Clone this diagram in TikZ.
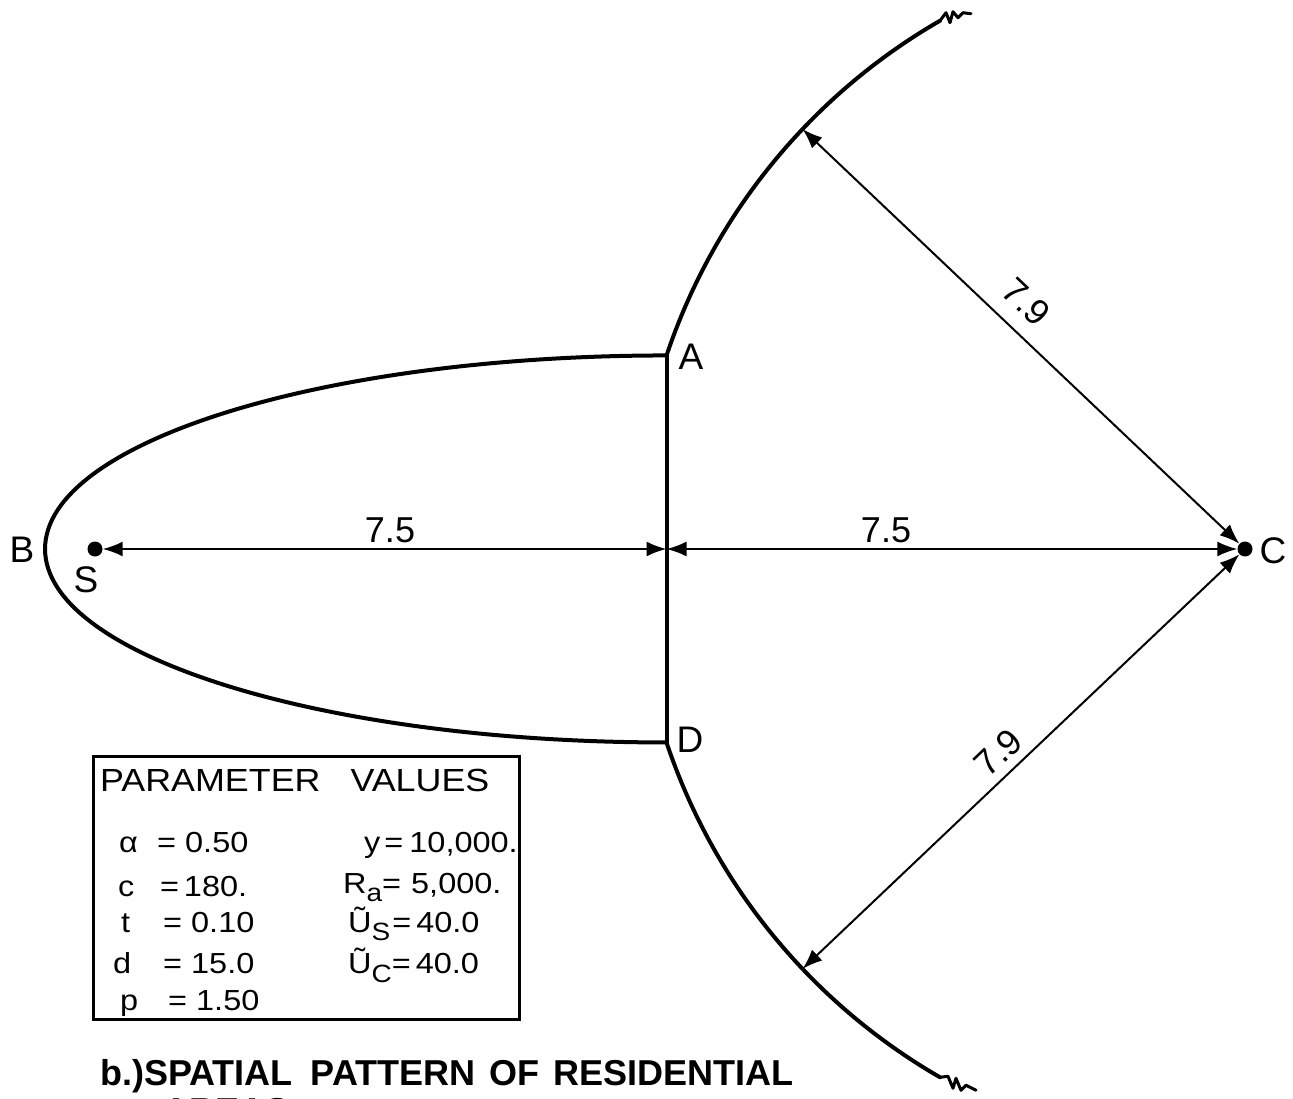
\documentclass[tikz,border=0pt]{standalone}
\usepackage{fontspec}
\setmainfont{Liberation Sans}
\newfontfamily\boxfont[FakeStretch=1.12]{Liberation Sans}
\usetikzlibrary{arrows.meta,calc}
\begin{document}
\begin{tikzpicture}[x=1pt,y=-1pt,
  curve/.style={line width=4pt, line join=round, line cap=round},
  zig/.style={line width=3pt, line join=round, line cap=round},
  dimline/.style={line width=2pt, {Latex[length=20pt,width=15pt]}-{Latex[length=20pt,width=15pt]}},
  dot/.style={circle, fill, inner sep=0pt, minimum size=15pt},
  lbl/.style={font=\fontsize{37}{40}\selectfont, inner sep=0pt},
  num/.style={font=\fontsize{36}{40}\selectfont, inner sep=0pt},
  ptxt/.style={font=\boxfont\fontsize{29}{32}\selectfont, anchor=base west, inner sep=0pt},
  captxt/.style={font=\bfseries\fontsize{36}{40}\selectfont, anchor=base west, inner sep=0pt},
]
\useasboundingbox (0,0) rectangle (1293,1099);
\fill[white] (0,0) rectangle (1293,1099);

% key points
\node[dot] (S) at (95,549) {};
\node[dot] (C) at (1245,549) {};
\coordinate (O) at (666.5,549);
\coordinate (A) at ($(C)+(161.5:610pt)$);
\coordinate (D) at ($(C)+(198.5:610pt)$);
\coordinate (P1) at ($(C)+(136.5:610pt)$);
\coordinate (P2) at ($(C)+(223.5:610pt)$);

% left half ellipse and the boundary A-D
\draw[curve] (A) arc[start angle=90, end angle=270, x radius=621.5pt, y radius=193.5pt];
\draw[curve] (A) -- (D);

% arcs centred at C
\draw[curve] (A) arc[start angle=161.5, end angle=120, radius=610pt] coordinate (E1);
\draw[zig] (E1) -- ++(6,-8) -- ++(4,10) -- ++(3,-11) -- ++(5,6) -- ++(5,-5) -- ++(8,1);
\draw[curve] (D) arc[start angle=198.5, end angle=240, radius=610pt] coordinate (E2);
\draw[zig] (E2) -- ++(8,-1) -- ++(5,12) -- ++(3,-10) -- ++(5,12) -- ++(5,-5) -- ++(10,5);

% dimension lines
\draw[dimline] (S) -- (O);
\draw[dimline] (O) -- (C);
\draw[dimline] (C) -- (P1);
\draw[dimline] (C) -- (P2);

% labels
\node[lbl] (lB) at (22,550) {B};
\node[lbl] (lS) at (86,580) {S};
\node[lbl] (lA) at (691,357) {A};
\node[lbl] (lD) at (690,740) {D};
\node[lbl] (lC) at (1273,551) {C};
\node[num] (n1) at (390,530) {7.5};
\node[num] (n2) at (886,530) {7.5};
\node[num, rotate=-43.5] (n3) at ($(C)+(131.5:330pt)$) {7.9};
\node[num, rotate=43.5] (n4) at ($(C)+(219.5:320pt)$) {7.9};

% parameter box
\node[draw, line width=2.5pt, anchor=north west, minimum width=426pt, minimum height=263pt, inner sep=0pt] (box) at (92,755) {};
\node[ptxt, font=\boxfont\fontsize{32}{36}\selectfont] (title) at (100,791) {PARAMETER\hspace{30pt}VALUES};

\node[ptxt] (s1) at (119,852) {α};
\node[ptxt] (v1) at (157,852) {= 0.50};
\node[ptxt] (s2) at (118,896) {c};
\node[ptxt] (v2) at (160,896) {=\,180.};
\node[ptxt] (s3) at (121,932) {t};
\node[ptxt] (v3) at (163,932) {= 0.10};
\node[ptxt] (s4) at (113,973) {d};
\node[ptxt] (v4) at (163,973) {= 15.0};
\node[ptxt] (s5) at (120,1010) {p};
\node[ptxt] (v5) at (168,1010) {= 1.50};

\node[ptxt] (r1) at (364,852) {y\hspace{4pt}=\hspace{6pt}10,000.};
\node[ptxt] (r2) at (343,893) {R\raisebox{-8pt}{\fontsize{25}{25}\selectfont a}=\hspace{10pt}5,000.};
\node[ptxt] (r3) at (348,932) {Ũ\raisebox{-8pt}{\fontsize{25}{25}\selectfont S}\hspace{2pt}=\hspace{5pt}40.0};
\node[ptxt] (r4) at (348,973) {Ũ\raisebox{-9pt}{\fontsize{25}{25}\selectfont C}=\hspace{5pt}40.0};

% caption
\node[captxt] (cap1) at (100,1085) {b.)SPATIAL\hspace{18pt}PATTERN\hspace{4pt} OF\hspace{4pt} RESIDENTIAL};
\node[captxt] (cap2) at (163,1123) {AREAS};
\end{tikzpicture}
\end{document}
